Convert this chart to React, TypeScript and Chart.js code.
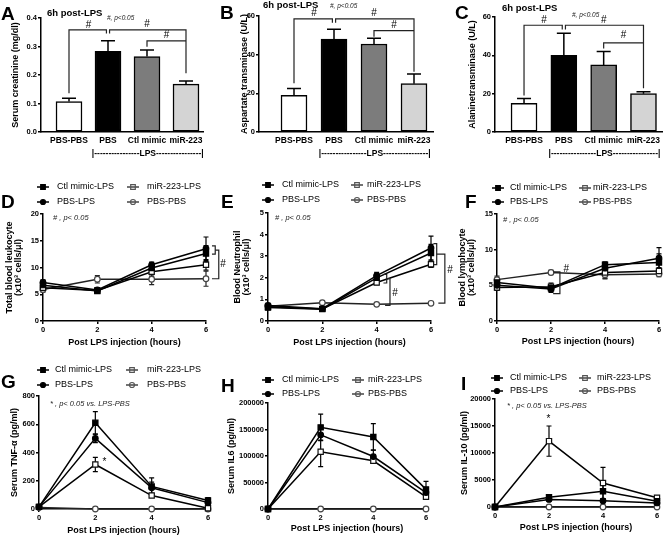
import React, { useEffect, useRef } from "react";
import { Chart, registerables } from "chart.js";

Chart.register(...registerables);

const FAMILY = "'Liberation Sans', Arial, Helvetica, sans-serif";
const W = 672;
const H = 537;

// ---------------- bar panels (6h post-LPS) ----------------
const barCategories = ["PBS-PBS", "PBS", "Ctl mimic", "miR-223"];
const barColors = ["#ffffff", "#000000", "#7c7c7c", "#d4d4d4"];
const creatinineMean = [0.107, 0.283, 0.265, 0.168];
const creatinineSem = [0.011, 0.037, 0.023, 0.011];
const astMean = [19, 48, 45.5, 25];
const astSem = [3.5, 5.2, 3, 5];
const altMean = [15, 40, 35, 20];
const altSem = [2.5, 11.5, 7, 1];

// ---------------- time-course panels ----------------
const hours = [0, 2, 4, 6];
const seriesNames = ["Ctl mimic-LPS", "PBS-LPS", "miR-223-LPS", "PBS-PBS"];

const leukCtl = [6.7, 5.6, 9.9, 12.6];
const leukPbsLps = [7.2, 5.8, 10.5, 13.5];
const leukMir = [6.2, 5.7, 9.2, 10.5];
const leukPbsPbs = [5.9, 7.8, 7.8, 7.9];
const leukCtlErr = [0.5, 0.4, 0.6, 1.5];
const leukPbsLpsErr = [0.5, 0.4, 0.5, 2.2];
const leukMirErr = [0.5, 0.5, 0.8, 1.0];
const leukPbsPbsErr = [0.5, 0.7, 1.0, 1.4];

const neutCtl = [0.62, 0.55, 2.0, 3.15];
const neutPbsLps = [0.72, 0.57, 2.1, 3.38];
const neutMir = [0.66, 0.56, 1.78, 2.63];
const neutPbsPbs = [0.68, 0.85, 0.77, 0.82];
const neutCtlErr = [0.1, 0.05, 0.15, 0.4];
const neutPbsLpsErr = [0.1, 0.05, 0.15, 0.55];
const neutMirErr = [0.1, 0.05, 0.1, 0.15];
const neutPbsPbsErr = [0.05, 0.05, 0.05, 0.05];

const lymCtl = [5.4, 4.6, 7.9, 8.2];
const lymPbsLps = [5.0, 4.5, 7.4, 8.8];
const lymMir = [4.7, 4.8, 6.8, 7.0];
const lymPbsPbs = [5.8, 6.8, 6.5, 6.6];
const lymCtlErr = [0.5, 0.4, 0.4, 1.2];
const lymPbsLpsErr = [0.4, 0.5, 0.4, 1.5];
const lymMirErr = [0.4, 0.5, 0.8, 0.5];
const lymPbsPbsErr = [0.5, 0.3, 0.6, 0.4];

const tnfCtl = [15, 610, 160, 60];
const tnfPbsLps = [15, 500, 150, 45];
const tnfMir = [15, 315, 95, 5];
const tnfPbsPbs = [10, 0, 0, 0];
const tnfCtlErr = [5, 80, 60, 20];
const tnfPbsLpsErr = [5, 30, 40, 15];
const tnfMirErr = [5, 50, 10, 5];
const tnfPbsPbsErr = [0, 0, 0, 0];

const il6Ctl = [0, 154000, 136000, 37000];
const il6PbsLps = [0, 140000, 99000, 31000];
const il6Mir = [0, 108000, 91000, 23000];
const il6PbsPbs = [0, 0, 0, 0];
const il6CtlErr = [0, 25000, 25000, 15000];
const il6PbsLpsErr = [0, 10000, 12000, 8000];
const il6MirErr = [0, 28000, 5000, 5000];
const il6PbsPbsErr = [0, 0, 0, 0];

const il10Ctl = [0, 1800, 2900, 1050];
const il10PbsLps = [0, 1400, 1150, 750];
const il10Mir = [0, 12200, 4450, 1700];
const il10PbsPbs = [0, 0, 0, 0];
const il10CtlErr = [0, 300, 1500, 200];
const il10PbsLpsErr = [0, 300, 400, 200];
const il10MirErr = [0, 2800, 2900, 300];
const il10PbsPbsErr = [0, 0, 0, 0];

// ---------------- styles ----------------
const seriesStyle = [
  { shape: "rect", fill: "#000", stroke: "#000", line: "#000" },
  { shape: "circle", fill: "#000", stroke: "#000", line: "#000" },
  { shape: "rect", fill: "#fff", stroke: "#111", line: "#000" },
  { shape: "circle", fill: "#fff", stroke: "#444", line: "#222" },
];

type Pt = [number, number];
type Mark = [number, number, string];
interface Area { l: number; t: number; r: number; b: number }
interface TextPos { text: string; x: number; y: number }
interface Annot {
  letter: TextPos;
  subtitle?: TextPos;
  note?: TextPos & { size: number };
  brackets: Pt[][];
  marks: Mark[];
}

const tickFont = { family: FAMILY, size: 7.5, weight: "bold" as const };
const titleFont = { family: FAMILY, size: 9, weight: "bold" as const, lineHeight: 1.0 };

function drawAnnot(chart: any, a: Annot) {
  const ctx = chart.ctx as CanvasRenderingContext2D;
  const xs = chart.scales.x;
  const ys = chart.scales.y;
  ctx.save();
  ctx.fillStyle = "#000";
  ctx.textAlign = "left";
  ctx.textBaseline = "alphabetic";
  ctx.font = `bold 19px ${FAMILY}`;
  ctx.fillText(a.letter.text, a.letter.x, a.letter.y);
  ctx.textBaseline = "middle";
  if (a.subtitle) {
    ctx.font = `bold 9.5px ${FAMILY}`;
    ctx.fillText(a.subtitle.text, a.subtitle.x, a.subtitle.y);
  }
  if (a.note) {
    ctx.font = `italic ${a.note.size}px ${FAMILY}`;
    ctx.fillStyle = "#222";
    ctx.fillText(a.note.text, a.note.x, a.note.y);
  }
  ctx.strokeStyle = "#222";
  ctx.lineWidth = 1.2;
  for (const br of a.brackets) {
    ctx.beginPath();
    br.forEach(([x, y], k) => {
      const px = xs.getPixelForValue(x);
      const py = ys.getPixelForValue(y);
      if (k) ctx.lineTo(px, py);
      else ctx.moveTo(px, py);
    });
    ctx.stroke();
  }
  ctx.fillStyle = "#000";
  ctx.font = `10px ${FAMILY}`;
  ctx.textAlign = "center";
  for (const [x, y, t] of a.marks) {
    ctx.fillText(t, xs.getPixelForValue(x), ys.getPixelForValue(y));
  }
  ctx.restore();
}

function drawMarker(ctx: CanvasRenderingContext2D, st: any, x: number, y: number, fill: string) {
  ctx.beginPath();
  if (st.shape === "rect") ctx.rect(x - 2.3, y - 2.3, 4.6, 4.6);
  else ctx.arc(x, y, 2.5, 0, Math.PI * 2);
  if (fill) {
    ctx.fillStyle = fill;
    ctx.fill();
  }
  ctx.strokeStyle = st.fill === "#fff" ? "#555" : st.stroke;
  ctx.lineWidth = 1.2;
  ctx.stroke();
}

interface BarSpec {
  means: number[];
  sems: number[];
  yMax: number;
  yStep: number;
  yFmt: (v: number) => string;
  yTitle: string;
  area: Area;
  titleX: number;
  xMin: number;
  xMax: number;
  annot: Annot;
}

function makeBarConfig(s: BarSpec): any {
  const padLeft = s.titleX - 4.5;
  const yW = s.area.l - padLeft;
  const xH = 30;
  const lps = "|" + "-".repeat(16) + "LPS" + "-".repeat(16) + "|";
  return {
    type: "bar",
    data: {
      datasets: [
        {
          data: s.means.map((v, i) => ({ x: i, y: v })),
          backgroundColor: barColors,
          borderColor: "#000",
          borderWidth: 1.5,
          borderSkipped: false,
          barThickness: 26,
        },
      ],
    },
    options: {
      animation: false,
      responsive: false,
      devicePixelRatio: 1,
      layout: { padding: { left: padLeft, top: s.area.t, right: W - s.area.r, bottom: H - s.area.b - xH } },
      plugins: { legend: { display: false }, tooltip: { enabled: false } },
      scales: {
        x: {
          type: "linear",
          offset: false,
          min: s.xMin,
          max: s.xMax,
          afterBuildTicks: (sc: any) => {
            sc.ticks = barCategories.map((_, i) => ({ value: i }));
          },
          ticks: {
            autoSkip: false,
            maxRotation: 0,
            padding: 4,
            color: "#000",
            font: { family: FAMILY, size: 8.5, weight: "bold" },
            callback: (v: number) => barCategories[v] ?? "",
          },
          grid: { display: false, drawTicks: false, offset: false },
          border: { display: true, color: "#000", width: 1.5 },
          afterFit: (sc: any) => {
            sc.height = xH;
          },
        },
        y: {
          min: 0,
          max: s.yMax,
          ticks: { stepSize: s.yStep, padding: 1, color: "#000", font: tickFont, callback: (v: number) => s.yFmt(v) },
          grid: { display: true, drawOnChartArea: false, drawTicks: true, tickLength: 3, color: "#000", lineWidth: 1.5 },
          border: { display: true, color: "#000", width: 1.5 },
          title: { display: true, text: s.yTitle, color: "#000", font: titleFont, padding: 0 },
          afterFit: (sc: any) => {
            sc.width = yW;
          },
        },
      },
    },
    plugins: [
      {
        id: "barExtras",
        afterDatasetsDraw(chart: any) {
          const ctx = chart.ctx as CanvasRenderingContext2D;
          const xs = chart.scales.x;
          const ys = chart.scales.y;
          ctx.save();
          ctx.strokeStyle = "#000";
          ctx.lineWidth = 1.5;
          s.means.forEach((m, i) => {
            const x = xs.getPixelForValue(i);
            const y0 = ys.getPixelForValue(m);
            const y1 = ys.getPixelForValue(m + s.sems[i]);
            ctx.beginPath();
            ctx.moveTo(x, y0);
            ctx.lineTo(x, y1);
            ctx.moveTo(x - 7, y1);
            ctx.lineTo(x + 7, y1);
            ctx.stroke();
          });
          ctx.restore();
        },
        afterDraw(chart: any) {
          drawAnnot(chart, s.annot);
          const ctx = chart.ctx as CanvasRenderingContext2D;
          ctx.save();
          ctx.fillStyle = "#000";
          ctx.font = `bold 8.5px ${FAMILY}`;
          ctx.textAlign = "center";
          ctx.textBaseline = "middle";
          ctx.fillText(lps, chart.scales.x.getPixelForValue(2.02), 154);
          ctx.restore();
        },
      },
    ],
  };
}

interface LegendPos { m1: number; t1: number; m2: number; t2: number; r1: number; r2: number }
interface LineSpec {
  series: number[][];
  errors: number[][];
  yMax: number;
  yStep: number;
  yTitle: string | string[];
  area: Area;
  titleX: number;
  xTitleY: number;
  legend: LegendPos;
  annot: Annot;
}

function makeLineConfig(s: LineSpec): any {
  const padLeft = s.titleX - 4.5;
  const yW = s.area.l - padLeft;
  const xBottom = s.xTitleY + 5.4;
  const xH = xBottom - s.area.b;
  return {
    type: "line",
    data: {
      datasets: s.series.map((vals, k) => ({
        label: seriesNames[k],
        data: vals.map((v, i) => ({ x: hours[i], y: v })),
        borderColor: seriesStyle[k].line,
        borderWidth: 1.5,
        tension: 0,
        pointStyle: seriesStyle[k].shape,
        pointRadius: seriesStyle[k].shape === "rect" ? 3.7 : 2.8,
        pointBackgroundColor: seriesStyle[k].fill,
        pointBorderColor: seriesStyle[k].stroke,
        pointBorderWidth: 1.2,
        clip: false,
      })),
    },
    options: {
      animation: false,
      responsive: false,
      devicePixelRatio: 1,
      layout: { padding: { left: padLeft, top: s.area.t, right: W - s.area.r, bottom: H - xBottom } },
      plugins: { legend: { display: false }, tooltip: { enabled: false } },
      scales: {
        x: {
          type: "linear",
          min: 0,
          max: 6,
          ticks: { stepSize: 2, padding: 1, color: "#000", font: tickFont },
          grid: { display: true, drawOnChartArea: false, drawTicks: true, tickLength: 3, color: "#000", lineWidth: 1.5 },
          border: { display: true, color: "#000", width: 1.5 },
          title: {
            display: true,
            text: "Post LPS injection (hours)",
            color: "#000",
            font: { family: FAMILY, size: 9, weight: "bold" },
            padding: 0,
          },
          afterFit: (sc: any) => {
            sc.height = xH;
          },
        },
        y: {
          min: 0,
          max: s.yMax,
          ticks: { stepSize: s.yStep, padding: 1, color: "#000", font: tickFont, callback: (v: number) => String(v) },
          grid: { display: true, drawOnChartArea: false, drawTicks: true, tickLength: 3, color: "#000", lineWidth: 1.5 },
          border: { display: true, color: "#000", width: 1.5 },
          title: { display: true, text: s.yTitle, color: "#000", font: titleFont, padding: 0 },
          afterFit: (sc: any) => {
            sc.width = yW;
          },
        },
      },
    },
    plugins: [
      {
        id: "lineExtras",
        beforeDatasetsDraw(chart: any) {
          const ctx = chart.ctx as CanvasRenderingContext2D;
          const xs = chart.scales.x;
          const ys = chart.scales.y;
          ctx.save();
          ctx.lineWidth = 1.2;
          s.series.forEach((vals, k) => {
            ctx.strokeStyle = seriesStyle[k].line;
            vals.forEach((v, i) => {
              const e = s.errors[k][i];
              if (!e) return;
              const x = xs.getPixelForValue(hours[i]);
              const yt = ys.getPixelForValue(v + e);
              const yb = ys.getPixelForValue(Math.max(0, v - e));
              ctx.beginPath();
              ctx.moveTo(x, yt);
              ctx.lineTo(x, yb);
              ctx.moveTo(x - 2.5, yt);
              ctx.lineTo(x + 2.5, yt);
              ctx.moveTo(x - 2.5, yb);
              ctx.lineTo(x + 2.5, yb);
              ctx.stroke();
            });
          });
          ctx.restore();
        },
        afterDraw(chart: any) {
          drawAnnot(chart, s.annot);
          const ctx = chart.ctx as CanvasRenderingContext2D;
          const L = s.legend;
          const slots = [
            [L.m1, L.t1, L.r1],
            [L.m1, L.t1, L.r2],
            [L.m2, L.t2, L.r1],
            [L.m2, L.t2, L.r2],
          ];
          ctx.save();
          seriesNames.forEach((name, k) => {
            const [mx, tx, ry] = slots[k];
            const st = seriesStyle[k];
            ctx.strokeStyle = st.fill === "#fff" ? "#444" : st.line;
            ctx.lineWidth = 1.5;
            ctx.beginPath();
            ctx.moveTo(mx - 6, ry);
            ctx.lineTo(mx + 6, ry);
            ctx.stroke();
            drawMarker(ctx, st, mx, ry, st.fill === "#fff" ? "" : st.fill);
            ctx.fillStyle = "#000";
            ctx.font = `9px ${FAMILY}`;
            ctx.textAlign = "left";
            ctx.textBaseline = "middle";
            ctx.fillText(name, tx, ry);
          });
          ctx.restore();
        },
      },
    ],
  };
}

const panels: any[] = [
  makeBarConfig({
    means: creatinineMean,
    sems: creatinineSem,
    yMax: 0.4,
    yStep: 0.1,
    yFmt: (v) => Number(v).toFixed(1),
    yTitle: "Serum creatinine (mg/dl)",
    area: { l: 41, t: 18, r: 203, b: 132 },
    titleX: 16,
    xMin: -0.718,
    xMax: 3.436,
    annot: {
      letter: { text: "A", x: 1, y: 20 },
      subtitle: { text: "6h post-LPS", x: 47, y: 13 },
      note: { text: "#, p<0.05", x: 107, y: 18, size: 6.5 },
      brackets: [
        [[0, 0.136], [0, 0.358], [0.96, 0.358], [0.96, 0.346]],
        [[1.04, 0.346], [1.04, 0.358], [3, 0.358], [3, 0.206]],
        [[2, 0.299], [2, 0.32], [3, 0.32]],
      ],
      marks: [[0.5, 0.375, "#"], [2, 0.379, "#"], [2.5, 0.34, "#"]],
    },
  }),
  makeBarConfig({
    means: astMean,
    sems: astSem,
    yMax: 60,
    yStep: 20,
    yFmt: (v) => String(v),
    yTitle: "Aspartate transminase (U/L)",
    area: { l: 259, t: 16, r: 433, b: 132 },
    titleX: 245,
    xMin: -0.875,
    xMax: 3.475,
    annot: {
      letter: { text: "B", x: 220, y: 19 },
      subtitle: { text: "6h post-LPS", x: 263, y: 5 },
      note: { text: "#, p<0.05", x: 330, y: 6, size: 6.5 },
      brackets: [
        [[0, 25.2], [0, 58.5], [0.96, 58.5], [0.96, 56.5]],
        [[1.04, 56.5], [1.04, 58.5], [3, 58.5], [3, 31.2]],
        [[2, 49.3], [2, 52.4], [3, 52.4]],
      ],
      marks: [[0.5, 61.4, "#"], [2, 61.4, "#"], [2.5, 55.3, "#"]],
    },
  }),
  makeBarConfig({
    means: altMean,
    sems: altSem,
    yMax: 60,
    yStep: 20,
    yFmt: (v) => String(v),
    yTitle: "Alaninetransminase (U/L)",
    area: { l: 495, t: 17, r: 662, b: 132 },
    titleX: 473,
    xMin: -0.729,
    xMax: 3.465,
    annot: {
      letter: { text: "C", x: 455, y: 19 },
      subtitle: { text: "6h post-LPS", x: 502, y: 8 },
      note: { text: "#, p<0.05", x: 572, y: 15, size: 6.5 },
      brackets: [
        [[0, 19], [0, 55.7], [0.96, 55.7], [0.96, 53.5]],
        [[1.04, 53.5], [1.04, 55.7], [3, 55.7], [3, 22.8]],
        [[2, 43.6], [2, 46.5], [3, 46.5]],
      ],
      marks: [[0.5, 58.3, "#"], [2, 58.3, "#"], [2.5, 50.5, "#"]],
    },
  }),
  makeLineConfig({
    series: [leukCtl, leukPbsLps, leukMir, leukPbsPbs],
    errors: [leukCtlErr, leukPbsLpsErr, leukMirErr, leukPbsPbsErr],
    yMax: 20,
    yStep: 5,
    yTitle: ["Total blood leukocyte", "(x10³ cells/μl)"],
    area: { l: 43, t: 214, r: 206, b: 321 },
    titleX: 10,
    xTitleY: 343,
    legend: { m1: 43, t1: 57, m2: 133, t2: 147, r1: 187, r2: 202 },
    annot: {
      letter: { text: "D", x: 1, y: 208 },
      note: { text: "# , p< 0.05", x: 53, y: 218, size: 7.5 },
      brackets: [
        [[6.22, 14.06], [6.34, 14.06], [6.34, 12.5], [6.22, 12.5]],
        [[6.34, 13.25], [6.47, 13.25], [6.47, 7.9], [6.22, 7.9]],
      ],
      marks: [[6.63, 10.56, "#"]],
    },
  }),
  makeLineConfig({
    series: [neutCtl, neutPbsLps, neutMir, neutPbsPbs],
    errors: [neutCtlErr, neutPbsLpsErr, neutMirErr, neutPbsPbsErr],
    yMax: 5,
    yStep: 1,
    yTitle: ["Blood Neutrophil", "(x10³ cells/μl)"],
    area: { l: 268, t: 213, r: 431, b: 321 },
    titleX: 238,
    xTitleY: 343,
    legend: { m1: 268, t1: 282, m2: 357, t2: 367, r1: 185, r2: 200 },
    annot: {
      letter: { text: "E", x: 221, y: 208 },
      note: { text: "# , p< 0.05", x: 275, y: 218, size: 7.5 },
      brackets: [
        [[6.09, 3.58], [6.21, 3.58], [6.21, 2.61], [6.09, 2.61]],
        [[6.21, 3.1], [6.51, 3.1], [6.51, 0.83], [6.27, 0.83]],
        [[4.25, 2.16], [4.37, 2.16], [4.37, 1.76], [4.25, 1.76]],
        [[4.37, 1.96], [4.49, 1.96], [4.49, 0.72], [4.31, 0.72]],
      ],
      marks: [[6.7, 2.35, "#"], [4.68, 1.27, "#"]],
    },
  }),
  makeLineConfig({
    series: [lymCtl, lymPbsLps, lymMir, lymPbsPbs],
    errors: [lymCtlErr, lymPbsLpsErr, lymMirErr, lymPbsPbsErr],
    yMax: 15,
    yStep: 5,
    yTitle: ["Blood lymphocyte", "(x10³ cells/μl)"],
    area: { l: 497, t: 214, r: 659, b: 321 },
    titleX: 463,
    xTitleY: 342,
    legend: { m1: 498, t1: 510, m2: 585, t2: 593, r1: 188, r2: 202 },
    annot: {
      letter: { text: "F", x: 465, y: 208 },
      note: { text: "# , p< 0.05", x: 503, y: 220, size: 7.5 },
      brackets: [[[2.08, 6.89], [2.33, 6.89], [2.33, 3.84], [2.08, 3.84]]],
      marks: [[2.57, 7.22, "#"]],
    },
  }),
  makeLineConfig({
    series: [tnfCtl, tnfPbsLps, tnfMir, tnfPbsPbs],
    errors: [tnfCtlErr, tnfPbsLpsErr, tnfMirErr, tnfPbsPbsErr],
    yMax: 800,
    yStep: 200,
    yTitle: "Serum TNF-α (pg/ml)",
    area: { l: 39, t: 396, r: 208, b: 509 },
    titleX: 15,
    xTitleY: 531,
    legend: { m1: 43, t1: 55, m2: 132, t2: 147, r1: 370, r2: 385 },
    annot: {
      letter: { text: "G", x: 1, y: 388 },
      note: { text: "* , p< 0.05 vs. LPS-PBS", x: 50, y: 404, size: 7.5 },
      brackets: [],
      marks: [[2.32, 334, "*"]],
    },
  }),
  makeLineConfig({
    series: [il6Ctl, il6PbsLps, il6Mir, il6PbsPbs],
    errors: [il6CtlErr, il6PbsLpsErr, il6MirErr, il6PbsPbsErr],
    yMax: 200000,
    yStep: 50000,
    yTitle: "Serum IL6 (pg/ml)",
    area: { l: 268, t: 403, r: 426, b: 509 },
    titleX: 232,
    xTitleY: 529,
    legend: { m1: 268, t1: 282, m2: 358, t2: 368, r1: 380, r2: 394 },
    annot: {
      letter: { text: "H", x: 221, y: 392 },
      brackets: [],
      marks: [],
    },
  }),
  makeLineConfig({
    series: [il10Ctl, il10PbsLps, il10Mir, il10PbsPbs],
    errors: [il10CtlErr, il10PbsLpsErr, il10MirErr, il10PbsPbsErr],
    yMax: 20000,
    yStep: 5000,
    yTitle: "Serum IL-10 (pg/ml)",
    area: { l: 495, t: 399, r: 657, b: 507 },
    titleX: 465,
    xTitleY: 528,
    legend: { m1: 497, t1: 510, m2: 585, t2: 597, r1: 378, r2: 391 },
    annot: {
      letter: { text: "I", x: 461, y: 390 },
      note: { text: "* , p< 0.05 vs. LPS-PBS", x: 507, y: 406, size: 7.5 },
      brackets: [],
      marks: [[1.98, 16170, "*"]],
    },
  }),
];

function PanelCanvas({ config }: { config: any }) {
  const ref = useRef<HTMLCanvasElement>(null);
  useEffect(() => {
    const chart = new Chart(ref.current as HTMLCanvasElement, config);
    return () => chart.destroy();
  }, [config]);
  return (
    <canvas
      ref={ref}
      width={W}
      height={H}
      style={{ position: "absolute", left: 0, top: 0, width: W, height: H }}
    />
  );
}

export default function App() {
  return (
    <div
      style={{
        position: "absolute",
        left: 0,
        top: 0,
        width: W,
        height: H,
        background: "#fff",
        overflow: "hidden",
      }}
    >
      {panels.map((cfg, i) => (
        <PanelCanvas key={i} config={cfg} />
      ))}
    </div>
  );
}
